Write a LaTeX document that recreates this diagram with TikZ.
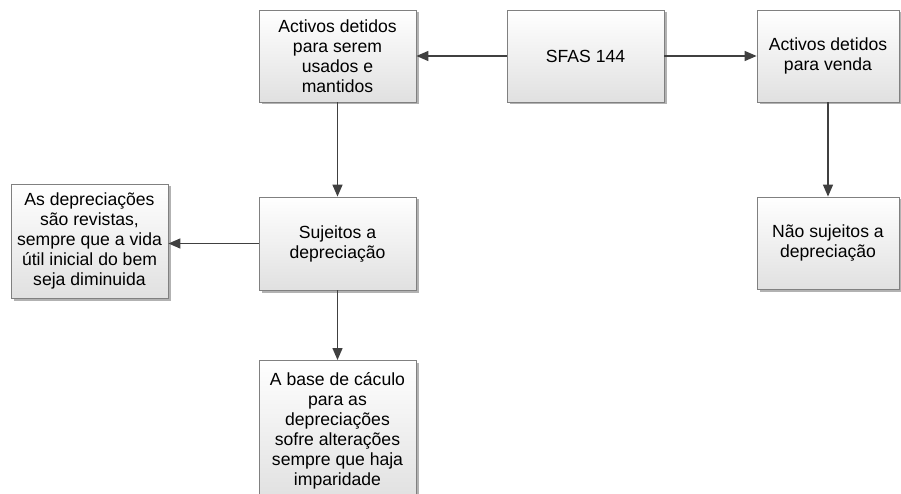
\documentclass[tikz,border=0pt]{standalone}
\usepackage{fontspec}
\setmainfont{Liberation Sans}
\usetikzlibrary{shadows,arrows.meta}
\begin{document}
\begin{tikzpicture}[x=1pt,y=-1pt,
  font=\fontsize{17.6}{20}\selectfont,
  flowbox/.style={rectangle, draw=black!50, line width=0.8pt,
    top color=white, bottom color=black!12,
    drop shadow={shadow xshift=2.5pt, shadow yshift=-2.5pt, fill=black!30, opacity=1},
    align=center, inner sep=3pt, text=black},
  link/.style={draw=black!75, line width=1.4pt,
    -{Triangle[length=12pt,width=10pt]}}]
\useasboundingbox (0,0) rectangle (901,494);

% top row
\node[flowbox, minimum width=157, minimum height=92] (used) at (337.5,56)
  {Activos detidos\\para serem\\usados e\\mantidos};
\node[flowbox, minimum width=157, minimum height=92] (sfas) at (585.5,56)
  {SFAS 144};
\node[flowbox, minimum width=142, minimum height=92] (sale) at (828,56)
  {Activos detidos\\para venda};

% middle row
\node[flowbox, minimum width=157, minimum height=114] (review) at (89.5,241)
  {As depreciações\\são revistas,\\sempre que a vida\\útil inicial do bem\\seja diminuida};
\node[flowbox, minimum width=157, minimum height=93] (dep) at (337.5,243.5)
  {Sujeitos a\\depreciação};
\node[flowbox, minimum width=142, minimum height=92] (nodep) at (828,243)
  {Não sujeitos a\\depreciação};

% bottom box, running past the lower edge
\node[flowbox, minimum width=157, minimum height=140, anchor=north] (base) at (337.5,360)
  {A base de cáculo\\para as\\depreciações\\sofre alterações\\sempre que haja\\imparidade};

% connectors
\draw[link] (sfas.west) -- (used.east);
\draw[link] (sfas.east) -- (sale.west);
\draw[link] (used.south) -- (dep.north);
\draw[link] (sale.south) -- (nodep.north);
\draw[link] (dep.west) -- (dep.west -| review.east);
\draw[link] (dep.south) -- (base.north);
\end{tikzpicture}
\end{document}
